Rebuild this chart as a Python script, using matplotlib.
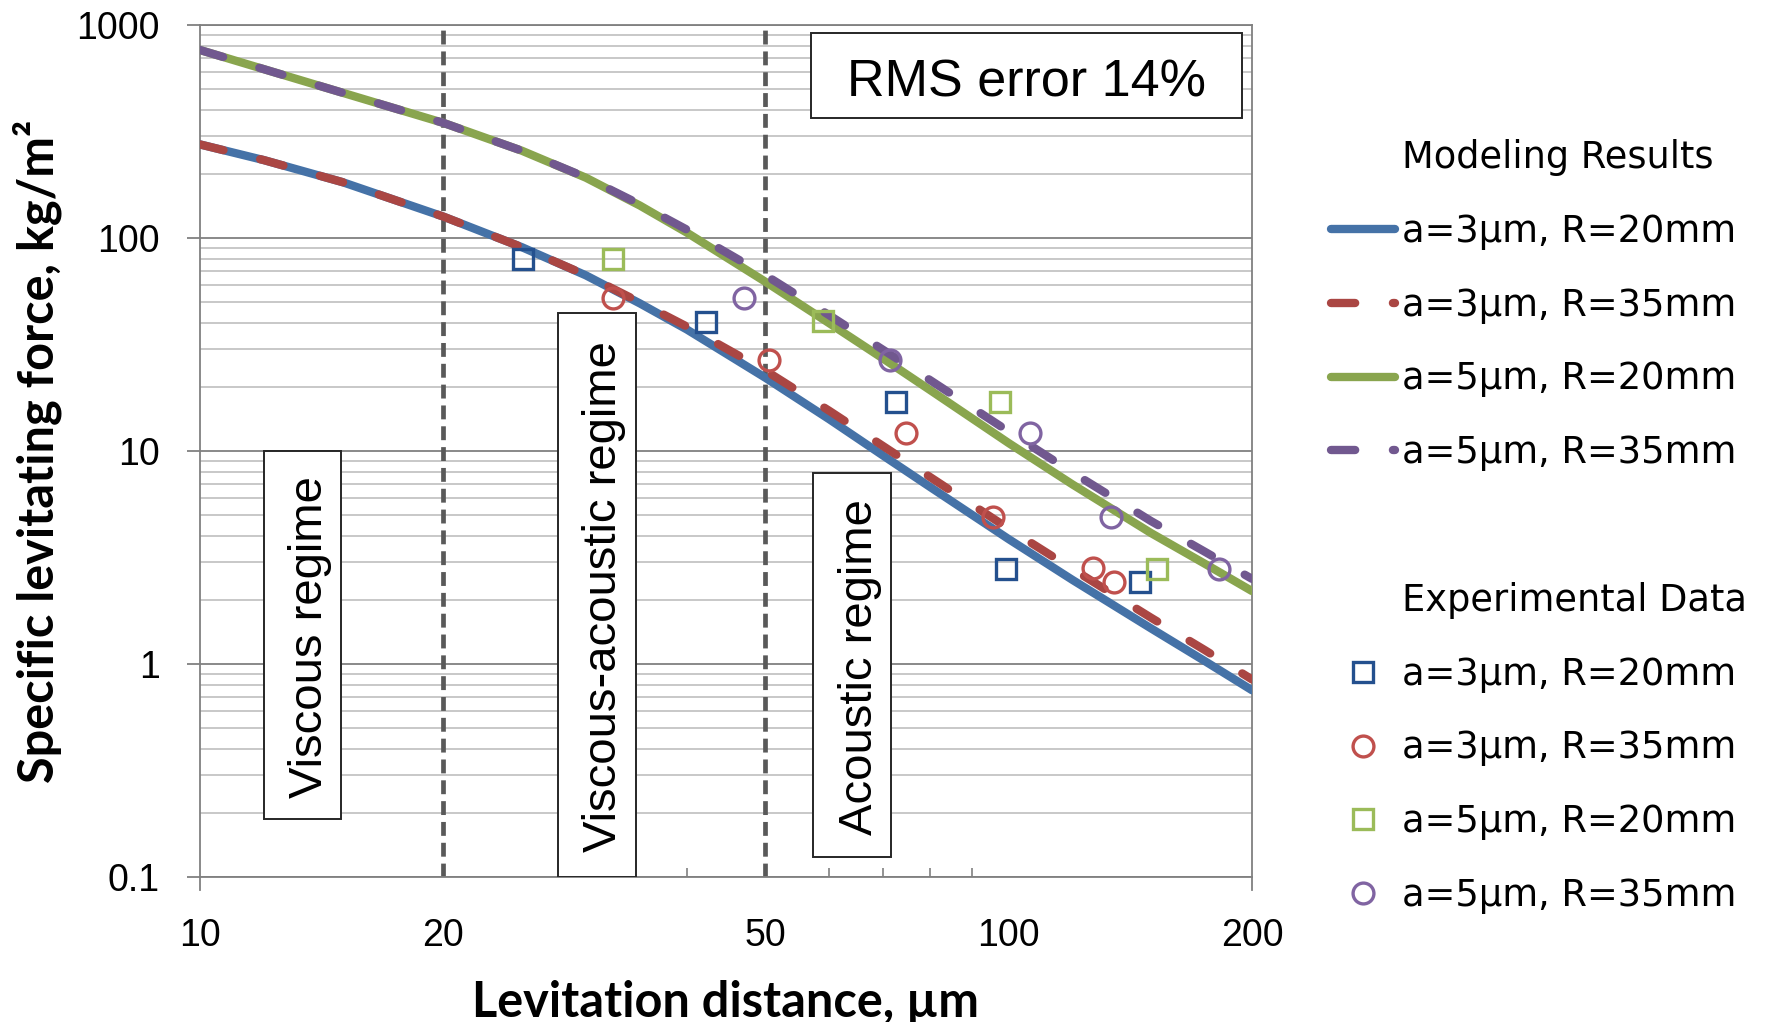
import matplotlib
matplotlib.use("Agg")
import matplotlib.pyplot as plt
from matplotlib.lines import Line2D
from matplotlib.patches import Rectangle
from matplotlib.ticker import LogLocator, NullFormatter

# --- values ---
distance = [10, 12, 15, 20, 25, 30, 35, 40, 50, 60, 70, 80, 100, 120, 150, 175, 200]
model_a3_r20 = [275, 232, 183, 126, 90.6, 66.8, 49.3, 37.2, 22.1, 14.1, 9.5, 6.77, 3.86, 2.48, 1.47, 1.03, 0.753]
model_a3_r35 = [275, 232, 183, 126, 90.6, 67.0, 49.9, 38.4, 23.9, 15.45, 10.53, 7.54, 4.32, 2.79, 1.65, 1.16, 0.846]
model_a5_r20 = [763, 620, 481, 347, 257, 192, 142, 106, 62.4, 39.8, 27.1, 19.3, 10.9, 6.96, 4.12, 2.95, 2.2]
model_a5_r35 = [763, 620, 481, 347, 257, 192.6, 143.8, 109.5, 67.0, 43.4, 29.8, 21.5, 12.35, 7.92, 4.69, 3.36, 2.51]

exp_a3_r20_x = [25.1, 42.2, 72.6, 99.2, 145.4]
exp_a3_r20_y = [79.4, 40.4, 16.9, 2.78, 2.43]
exp_a3_r35_x = [32.4, 50.5, 74.6, 95.6, 127.3, 135.2]
exp_a3_r35_y = [52.5, 26.7, 12.2, 4.92, 2.81, 2.43]
exp_a5_r20_x = [32.4, 58.9, 97.7, 152.8]
exp_a5_r20_y = [79.4, 40.7, 16.9, 2.78]
exp_a5_r35_x = [47.1, 71.3, 106.4, 133.9, 182.0]
exp_a5_r35_y = [52.5, 26.7, 12.2, 4.92, 2.78]

series_labels = ["a=3µm, R=20mm", "a=3µm, R=35mm", "a=5µm, R=20mm", "a=5µm, R=35mm"]
x_ticks = [10, 20, 50, 100, 200]
x_minor = [30, 40, 60, 70, 80, 90, 100]
y_ticks = [0.1, 1, 10, 100, 1000]
y_ticklabels = ["0.1", "1", "10", "100", "1000"]
regime_bounds = [20, 50]

W, H = 1783, 1022
fig = plt.figure(figsize=(W / 100, H / 100), dpi=100)
fig.patch.set_facecolor("white")
ax = fig.add_axes([200 / W, (H - 877) / H, 1052 / W, 852 / H])
ax.set_xscale("log")
ax.set_yscale("log")
ax.set_xlim(10, 200)
ax.set_ylim(0.1, 1000)
ax.set_axisbelow(True)

gray = "#808080"
sans = ["Liberation Sans", "DejaVu Sans"]

# grid, spines, ticks (Excel look)
ax.yaxis.set_minor_locator(LogLocator(base=10, subs=range(2, 10), numticks=100))
ax.yaxis.set_minor_formatter(NullFormatter())
ax.grid(True, axis="y", which="major", color=gray, lw=1.3)
ax.grid(True, axis="y", which="minor", color="#bfbfbf", lw=1.2)
for sp in ax.spines.values():
    sp.set_color(gray)
    sp.set_linewidth(1.3)
for xa in (0, 1):
    ax.plot([xa, xa], [-0.0153, 0], transform=ax.transAxes, clip_on=False,
            color=gray, lw=1.3)

ax.set_xticks(x_ticks)
ax.set_xticklabels([str(v) for v in x_ticks])
ax.set_xticks(x_minor, minor=True)
ax.xaxis.set_minor_formatter(NullFormatter())
ax.set_yticks(y_ticks)
ax.set_yticklabels(y_ticklabels)

ax.tick_params(axis="x", which="major", length=0, pad=29.5, labelsize=27)
ax.tick_params(axis="x", which="minor", direction="in", length=6.5, width=1.2, color=gray)
ax.tick_params(axis="y", which="major", direction="out", length=9.4, width=1.3,
               color=gray, pad=19.7, labelsize=27)
ax.tick_params(axis="y", which="minor", length=0)
for lab in ax.get_xticklabels() + ax.get_yticklabels():
    lab.set_family(sans)

# regime boundaries
for xb in regime_bounds:
    ax.axvline(xb, color="#595959", lw=3.4, linestyle=(0, (2.94, 1.47)), zorder=2)

# annotation boxes (axes fractions)
def box(x0, x1, y0, y1):
    ax.add_patch(Rectangle((x0, y0), x1 - x0, y1 - y0, transform=ax.transAxes,
                           facecolor="white", edgecolor="#262626", lw=1.4, zorder=3))

box(0.0608, 0.1340, 0.0681, 0.5000)
box(0.3400, 0.4142, 0.0000, 0.6616)
box(0.5830, 0.6568, 0.0238, 0.4738)
box(0.5805, 0.9908, 0.8905, 0.9903)

regime_txt = dict(rotation=90, rotation_mode="anchor", ha="center", va="baseline",
                  fontsize=34, family=sans, transform=ax.transAxes, zorder=6)
ax.text(0.1160, 0.2817, "Viscous regime", **regime_txt)
ax.text(0.3954, 0.3286, "Viscous-acoustic regime", **regime_txt)
ax.text(0.6384, 0.2459, "Acoustic regime", **regime_txt)
ax.text(0.7852, 0.9158, "RMS error 14%", ha="center", va="baseline", fontsize=37.5,
        family=sans, transform=ax.transAxes, zorder=6)

# model curves
lw = 6.0
dash = (0, (2.9, 4.53))
models = [
    (model_a3_r20, "#4572A7", "-"),
    (model_a3_r35, "#AA4643", dash),
    (model_a5_r20, "#89A54E", "-"),
    (model_a5_r35, "#71588F", dash),
]
model_lines = []
for (vals, col, ls), lab in zip(models, series_labels):
    ln, = ax.plot(distance, vals, color=col, lw=lw, linestyle=ls,
                  solid_capstyle="round", dash_capstyle="round",
                  solid_joinstyle="round", zorder=4, label=lab)
    model_lines.append(ln)

# experimental points
exps = [
    (exp_a3_r20_x, exp_a3_r20_y, "s", "#24508E"),
    (exp_a3_r35_x, exp_a3_r35_y, "o", "#C0504D"),
    (exp_a5_r20_x, exp_a5_r20_y, "s", "#9BBB59"),
    (exp_a5_r35_x, exp_a5_r35_y, "o", "#8064A2"),
]
exp_marks = []
for (xs, ys, mk, col), lab in zip(exps, series_labels):
    m, = ax.plot(xs, ys, linestyle="none", marker=mk, ms=15, mew=2.4,
                 mec=col, mfc="none", zorder=5, label=lab)
    exp_marks.append(m)

# axis titles
ax.set_xlabel("Levitation distance, µm", family=["Lato", "DejaVu Sans"],
              weight="bold", fontsize=35)
ax.xaxis.set_label_coords(0.5, -0.164)
ax.xaxis.label.set_va("baseline")
ax.set_ylabel("Specific levitating force, kg/m²", family=["Lato", "DejaVu Sans"],
              weight="bold", fontsize=35)
ax.yaxis.set_label_coords(-0.1388, 0.5)
ax.yaxis.label.set_va("baseline")

# legend: two titled groups stacked in one column
blank = Line2D([], [], linestyle="none")
handles = [blank] + model_lines + [blank, blank] + exp_marks
labels = (["Modeling Results"] + series_labels + [" ", "Experimental Data"]
          + series_labels)
ax.legend(handles, labels, loc="upper left",
          bbox_to_anchor=(1331 / W, (H - 139) / H), bbox_transform=fig.transFigure,
          frameon=False, borderpad=0, borderaxespad=0, handlelength=1.73,
          handletextpad=0.19, labelspacing=1.0, numpoints=1,
          prop={"family": "DejaVu Sans", "size": 26.5})

fig.savefig("out.png", dpi=100)
